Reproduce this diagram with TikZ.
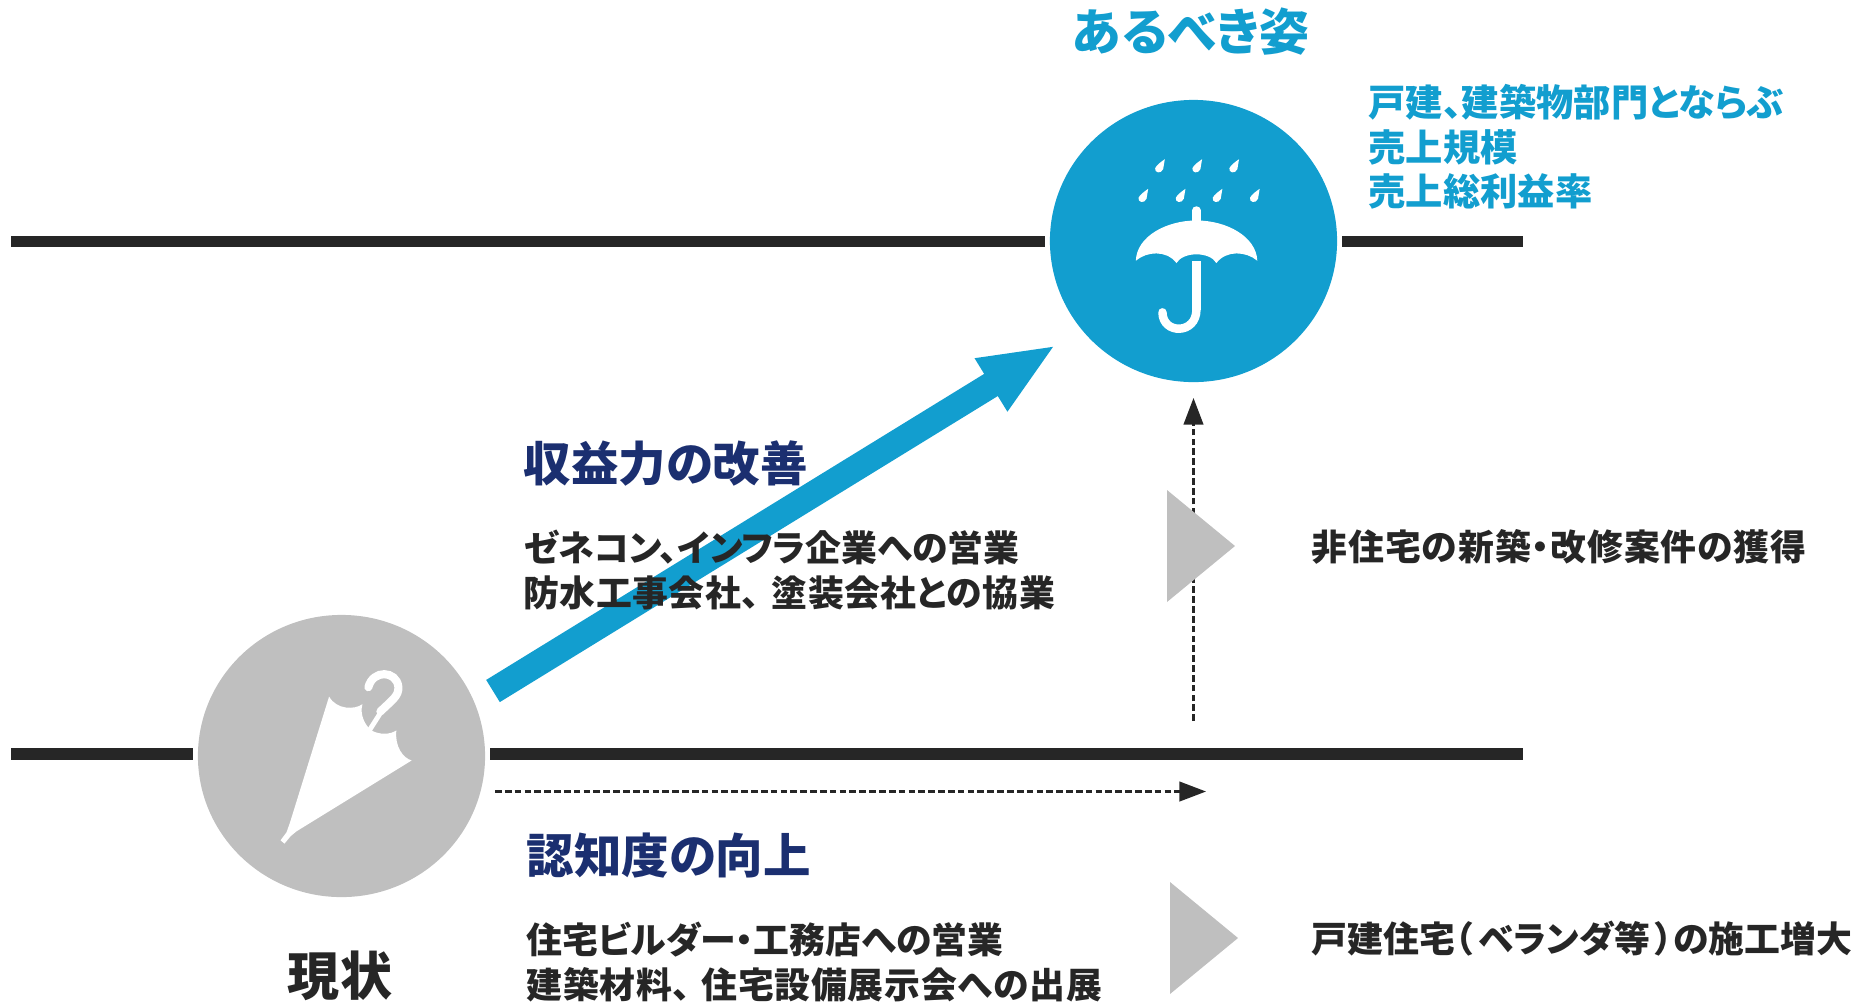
\documentclass[tikz,border=0pt]{standalone}
\usepackage{fontspec}
\setmainfont{Noto Sans CJK JP}[BoldFont={Noto Sans CJK JP Black},RawFeature=+palt]
\usetikzlibrary{arrows.meta,shapes.geometric}
\definecolor{skyblue}{HTML}{129ECF}
\definecolor{navyblue}{HTML}{1B2F70}
\definecolor{inkblack}{HTML}{262626}
\definecolor{softgrey}{HTML}{BFBFBF}
\newcommand{\widerline}[1]{\addfontfeature{LetterSpace=#1}}
\begin{document}
\begin{tikzpicture}[x=0.01cm,y=-0.01cm,>={Triangle[length=7.6pt,width=5.6pt]},
	every node/.style={inner sep=0pt,font=\bfseries},
	levelline/.style={inkblack,line width=3.4pt},
	stagecircle/.style={ellipse,minimum width=2.87cm,minimum height=2.82cm,outer sep=1.4pt},
	risearrow/.style={skyblue,line width=7.4pt,-{Triangle[length=21.7pt,width=16pt]}},
	dasharrow/.style={inkblack,line width=0.65pt,dash pattern=on 1.9pt off 0.9pt,->},
	headline/.style={anchor=west,navyblue,font=\bfseries\fontsize{13.5}{16}\selectfont},
	bodytext/.style={anchor=west,align=left,inkblack,font=\bfseries\fontsize{10.2}{12.8}\selectfont},
	goaltext/.style={anchor=west,align=left,skyblue,font=\bfseries\fontsize{10.6}{12.6}\selectfont},
	pointer/.style={fill=softgrey}]
	\useasboundingbox (0,0) rectangle (1866,1002);
	
	\node[stagecircle,fill=skyblue](goal) at (1193.5,241){};
	\node[stagecircle,fill=softgrey](now) at (341.5,756){};
	
	\coordinate (topleft) at (11,241.5);
	\coordinate (topright) at (1523,241.5);
	\coordinate (lowleft) at (11,754);
	\coordinate (lowright) at (1523,754);
	\draw[levelline] (topleft) -- (goal.west |- topleft);
	\draw[levelline] (goal.east |- topright) -- (topright);
	\draw[levelline] (lowleft) -- (now.west |- lowleft);
	\draw[levelline] (now.east |- lowright) -- (lowright);
	
	\coordinate (risetail) at (493,691);
	\coordinate (risetip) at (1056,345);
	\draw[risearrow] (risetail) -- (risetip);
	
	\coordinate (upstart) at (1193.5,721);
	\coordinate (upend) at (1193.5,398);
	\coordinate (sidestart) at (495,791.5);
	\coordinate (sideend) at (1206,791.5);
	\draw[dasharrow] (upstart) -- (upend);
	\draw[dasharrow] (sidestart) -- (sideend);
	
	\fill[pointer] (1167,490) -- (1235,546) -- (1167,602) -- cycle;
	\fill[pointer] (1170,882) -- (1238,938) -- (1170,994) -- cycle;
	
	\node[skyblue,font=\bfseries\fontsize{14.2}{16}\selectfont](goalname) at (1191,32){あるべき姿};
	\node[goaltext](goalnote) at (1368,147){戸建、建築物部門とならぶ\\売上規模\\売上総利益率};
	\node[inkblack,font=\bfseries\fontsize{14.8}{16}\selectfont](nowname) at (340,976){現状};
	
	\node[headline](profit) at (523,464){収益力の改善};
	\node[bodytext](profitbody) at (523,570){ゼネコン、インフラ企業への営業\\{\widerline{1.2}防水工事会社、\kern3.5pt 塗装会社との協業}};
	\node[bodytext](profitgain) at (1311,547){\widerline{2.5}非住宅の新築・改修案件の獲得};
	
	\node[headline](brand) at (526,856){認知度の向上};
	\node[bodytext](brandbody) at (526,962){住宅ビルダー・工務店への営業\\{\widerline{2}建築材料、\kern3pt 住宅設備展示会への出展}};
	\node[bodytext](brandgain) at (1311,939){戸建住宅（\kern1.5pt ベランダ等\kern1.5pt ）の施工増大};
	
	\begin{scope}[shift={(1040,90)},x=0.003333cm,y=-0.003333cm]
		\foreach \tipx/\tipy in {375/208,487/208,598/208,325/297,437/297,548/297,660/297}{
			\fill[white] (\tipx,\tipy) .. controls (\tipx-6,\tipy+4) and (\tipx-26,\tipy+18) .. (\tipx-29,\tipy+27)
				.. controls (\tipx-32,\tipy+40) and (\tipx-12,\tipy+46) .. (\tipx-5,\tipy+30) -- cycle;
		}
		\draw[white,line width=2.4pt,line cap=round] (470,362) -- (470,400);
		\fill[white] (288,513) .. controls (290,440) and (380,392) .. (470,392)
			.. controls (560,392) and (650,440) .. (653,513)
			.. controls (620,485) and (560,480) .. (530,520)
			.. controls (510,485) and (430,485) .. (410,520)
			.. controls (380,480) and (320,485) .. (288,513) -- cycle;
		\draw[white,line width=2.4pt] (470,514) -- (470,660);
		\draw[white,line width=2.4pt,line cap=round] (470,660) .. controls (470,735) and (368,735) .. (368,668);
	\end{scope}
	
	\begin{scope}[shift={(190,610)},x=0.003333cm,y=-0.003333cm]
		\fill[white] (418,260) .. controls (440,300) and (495,300) .. (518,283)
			.. controls (510,315) and (525,345) .. (545,362)
			.. controls (570,375) and (600,375) .. (620,362)
			.. controls (615,410) and (640,445) .. (666,452)
			-- (320,665) -- (302,680) -- (284,702) -- (272,692) -- (290,668) -- (300,640) -- cycle;
		\draw[white,line width=1.4pt] (540,360) -- (575,305);
		\draw[white,line width=2.3pt,line cap=round] (572,305) .. controls (610,268) and (628,258) .. (626,230)
			.. controls (620,182) and (550,178) .. (536,232);
	\end{scope}
	\end{tikzpicture}
\end{document}
